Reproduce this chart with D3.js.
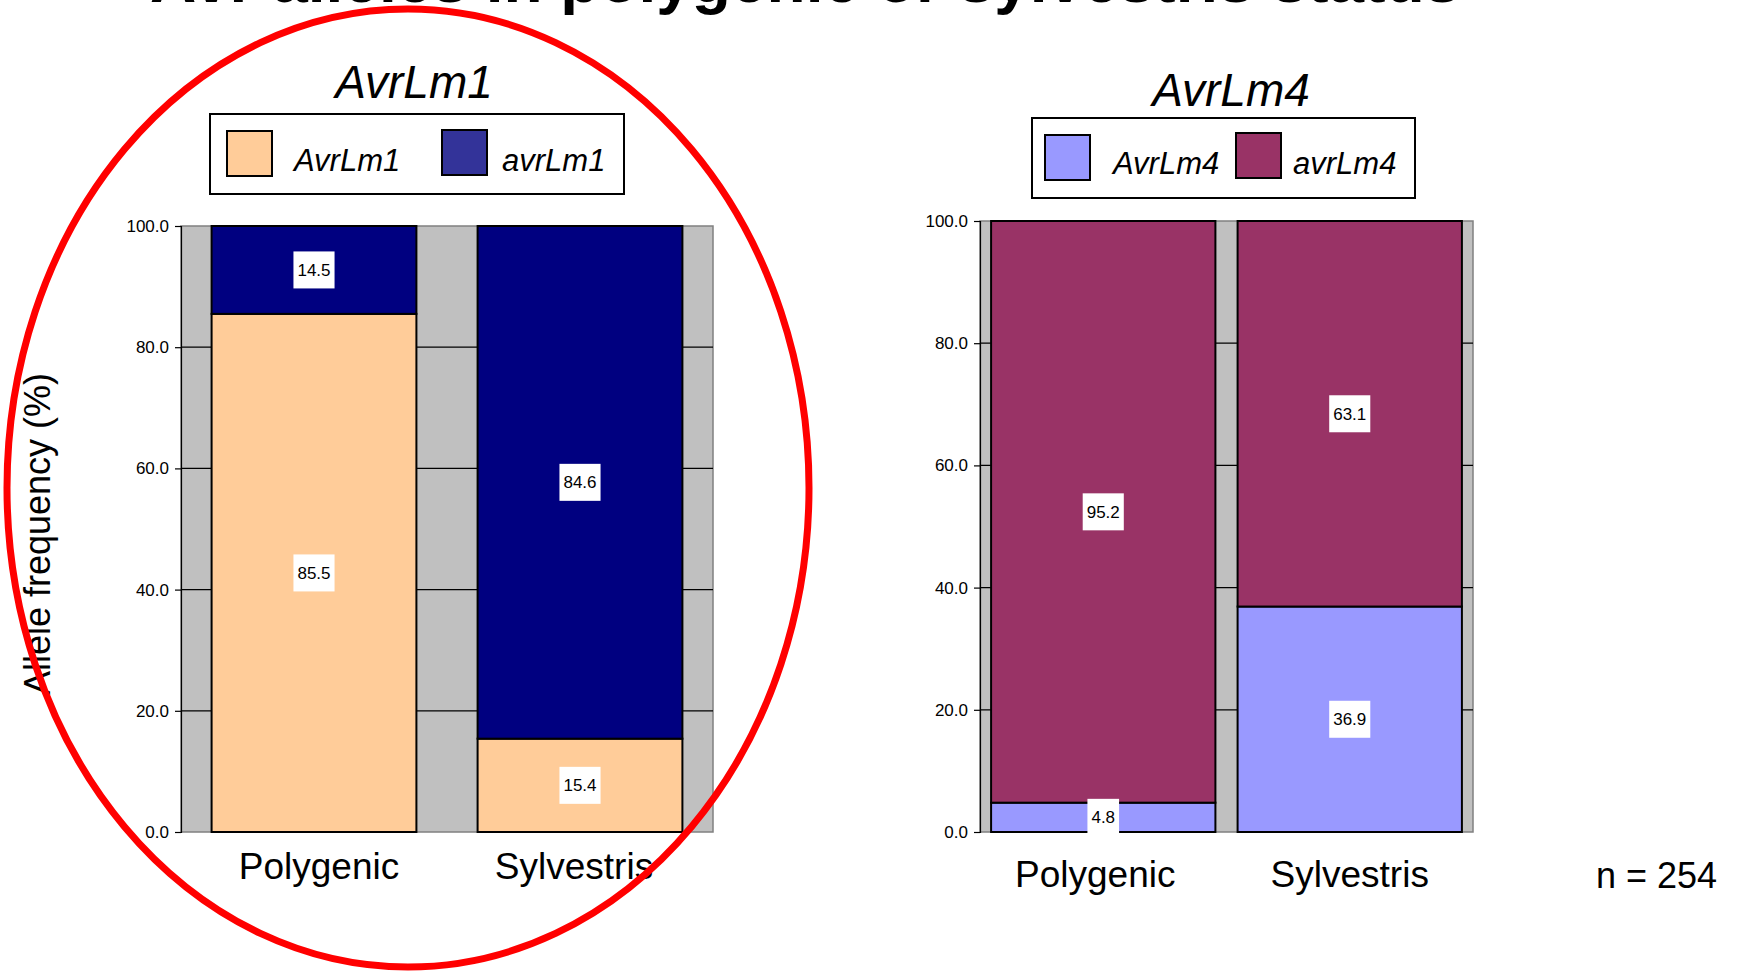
<!DOCTYPE html>
<html>
<head>
<meta charset="utf-8">
<script src="https://cdn.jsdelivr.net/npm/d3@7"></script>
<style>
  html, body { margin: 0; padding: 0; background: #fff; }
  svg { display: block; font-family: Arial, "Liberation Sans", Helvetica, sans-serif; }
</style>
</head>
<body>
<svg id="chart" width="1738" height="971"></svg>
<script>
// ---- data ----
const categories = ["Polygenic", "Sylvestris"];
const lm1Series = ["AvrLm1", "avrLm1"];
const lm1Virulent = [85.5, 15.4];    // AvrLm1
const lm1Avirulent = [14.5, 84.6];   // avrLm1
const lm4Series = ["AvrLm4", "avrLm4"];
const lm4Virulent = [4.8, 36.9];     // AvrLm4
const lm4Avirulent = [95.2, 63.1];   // avrLm4
const yTicks = [0, 20, 40, 60, 80, 100];
const chartTitles = ["AvrLm1", "AvrLm4"];
const yAxisLabel = "Allele frequency (%)";
const sampleNote = "n = 254";
const pageTitle = "Avr alleles in polygenic or sylvestris status";

const svg = d3.select("#chart");

// clipped page title (only its lower part is visible in the original)
svg.append("text")
  .attr("x", 150).attr("y", 2)
  .attr("font-size", 64).attr("font-weight", "bold")
  .attr("fill", "#000")
  .text(pageTitle);

function drawChart(cfg) {
  const g = svg.append("g");
  const rows = categories.map((c, i) => ({
    cat: c,
    [cfg.series[0]]: cfg.values[0][i],
    [cfg.series[1]]: cfg.values[1][i]
  }));
  const stacked = d3.stack().keys(cfg.series)(rows);

  const x = d3.scaleBand().domain(categories)
    .range([cfg.left, cfg.right])
    .paddingInner(cfg.padIn).paddingOuter(cfg.padOut);
  const y = d3.scaleLinear().domain([0, 100]).range([cfg.bottom, cfg.top]);
  const color = d3.scaleOrdinal().domain(cfg.series).range(cfg.colors);

  // plot background
  g.append("rect")
    .attr("x", cfg.left).attr("y", cfg.top)
    .attr("width", cfg.right - cfg.left).attr("height", cfg.bottom - cfg.top)
    .attr("fill", "#C0C0C0").attr("stroke", "#808080").attr("stroke-width", 1.5);

  // gridlines
  g.append("g").selectAll("line")
    .data(yTicks.filter(t => t > 0 && t < 100))
    .join("line")
    .attr("x1", cfg.left).attr("x2", cfg.right)
    .attr("y1", d => y(d)).attr("y2", d => y(d))
    .attr("stroke", "#000").attr("stroke-width", 1.2);

  // axis
  const axis = d3.axisLeft(y).tickValues(yTicks).tickFormat(d3.format(".1f"))
    .tickSize(6).tickPadding(6);
  const ax = g.append("g").attr("transform", `translate(${cfg.left},0)`).call(axis);
  ax.select(".domain").attr("stroke", "#000").attr("stroke-width", 1.2);
  ax.selectAll(".tick line").attr("stroke", "#000").attr("stroke-width", 1.2);
  ax.selectAll(".tick text").attr("font-size", 17).attr("fill", "#000")
    .attr("font-family", "Arial, 'Liberation Sans', sans-serif");

  // bars
  g.append("g").selectAll("g")
    .data(stacked)
    .join("g")
    .attr("fill", d => color(d.key))
    .selectAll("rect")
    .data(d => d)
    .join("rect")
    .attr("x", d => x(d.data.cat))
    .attr("width", x.bandwidth())
    .attr("y", d => y(d[1]))
    .attr("height", d => y(d[0]) - y(d[1]))
    .attr("stroke", "#000").attr("stroke-width", 2);

  // value labels
  const labels = [];
  stacked.forEach(s => s.forEach(d => labels.push({
    cx: x(d.data.cat) + x.bandwidth() / 2,
    cy: y((d[0] + d[1]) / 2),
    v: d[1] - d[0]
  })));
  const lg = g.append("g").selectAll("g").data(labels).join("g")
    .attr("transform", d => `translate(${d.cx},${d.cy})`);
  lg.append("text")
    .attr("text-anchor", "middle").attr("dy", "0.36em")
    .attr("font-size", 17).attr("fill", "#000")
    .text(d => d3.format(".1f")(d.v));
  lg.each(function () {
    const t = d3.select(this).select("text");
    const bb = t.node().getBBox();
    d3.select(this).insert("rect", "text")
      .attr("x", bb.x - 4).attr("y", -18.5)
      .attr("width", bb.width + 8).attr("height", 37)
      .attr("fill", "#fff");
  });

  // category labels
  g.append("g").selectAll("text").data(categories).join("text")
    .attr("x", (d, i) => x(d) + x.bandwidth() / 2 + cfg.catDx[i])
    .attr("y", cfg.catY)
    .attr("text-anchor", "middle")
    .attr("font-size", 37).attr("fill", "#000")
    .text(d => d);

  // chart title
  g.append("text")
    .attr("x", cfg.titleX).attr("y", cfg.titleY)
    .attr("text-anchor", "middle")
    .attr("font-size", 46).attr("font-style", "italic").attr("fill", "#000")
    .text(cfg.title);

  // legend
  const L = cfg.legend;
  g.append("rect")
    .attr("x", L.x).attr("y", L.y).attr("width", L.w).attr("height", L.h)
    .attr("fill", "#fff").attr("stroke", "#000").attr("stroke-width", 2);
  cfg.series.forEach((s, i) => {
    g.append("rect")
      .attr("x", L.sw[i]).attr("y", L.swY[i]).attr("width", 45).attr("height", 45)
      .attr("fill", L.swColors[i]).attr("stroke", "#000").attr("stroke-width", 2);
    g.append("text")
      .attr("x", L.tx[i]).attr("y", L.ty)
      .attr("font-size", 31).attr("font-style", "italic").attr("fill", "#000")
      .text(s);
  });
}

drawChart({
  series: lm1Series, values: [lm1Virulent, lm1Avirulent],
  colors: ["#FFCC99", "#000080"],
  left: 181, right: 713, top: 226, bottom: 832,
  padIn: 0.23, padOut: 0.115,
  catY: 879, catDx: [5, -6], title: chartTitles[0], titleX: 414, titleY: 98,
  legend: { x: 210, y: 114, w: 414, h: 80,
            sw: [227, 442], swY: [131, 130], tx: [294, 502], ty: 171,
            swColors: ["#FFCC99", "#333399"] }
});

drawChart({
  series: lm4Series, values: [lm4Virulent, lm4Avirulent],
  colors: ["#9999FF", "#993366"],
  left: 980, right: 1473, top: 221, bottom: 832,
  padIn: 0.09, padOut: 0.045,
  catY: 887, catDx: [-8, 0], title: chartTitles[1], titleX: 1231, titleY: 106,
  legend: { x: 1032, y: 118, w: 383, h: 80,
            sw: [1045, 1236], swY: [135, 133], tx: [1113, 1293], ty: 174,
            swColors: ["#9999FF", "#993366"] }
});

// y axis label
svg.append("text")
  .attr("transform", "translate(50,534) rotate(-90)")
  .attr("text-anchor", "middle")
  .attr("font-size", 36).attr("fill", "#000")
  .text(yAxisLabel);

// sample size note
svg.append("text")
  .attr("x", 1596).attr("y", 888)
  .attr("font-size", 36).attr("fill", "#000")
  .text(sampleNote);

// red highlight ellipse
svg.append("ellipse")
  .attr("cx", 408).attr("cy", 488).attr("rx", 401).attr("ry", 479)
  .attr("fill", "none").attr("stroke", "#FF0000").attr("stroke-width", 7);
</script>
</body>
</html>
